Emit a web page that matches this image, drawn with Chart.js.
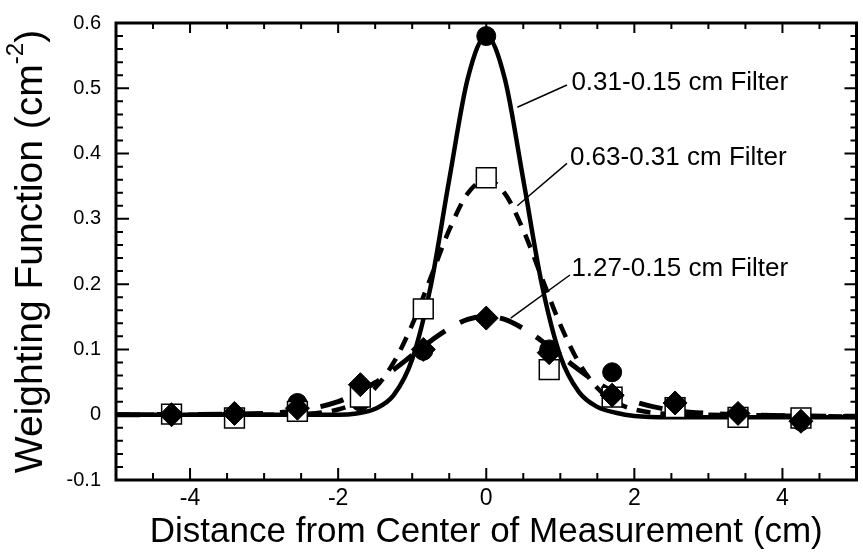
<!DOCTYPE html>
<html lang="en">
<head>
<meta charset="UTF-8">
<title>Weighting Function</title>
<script src="https://cdn.jsdelivr.net/npm/chart.js"></script>
<style>
  html, body { margin: 0; padding: 0; background: #fff; overflow: hidden; }
  .wrap { width: 863px; height: 557px; overflow: hidden; position: relative; }
  #chart { display: block; }
</style>
</head>
<body>
<div class="wrap">
  <canvas id="chart" width="872" height="557"></canvas>
</div>
<script>
// measured points (cm from center)
const sampleX  = [-4.25, -3.4, -2.55, -1.7, -0.85, 0, 0.85, 1.7, 2.55, 3.4, 4.25];
const circleY  = [0, 0, 0.018, 0.02, 0.098, 0.58, 0.1, 0.065, 0.015, 0, -0.01];
const squareY  = [0.001, -0.005, 0.005, 0.027, 0.162, 0.363, 0.069, 0.027, 0.011, -0.004, -0.005];
const diamondY = [0, 0.002, 0.01, 0.046, 0.1, 0.148, 0.095, 0.03, 0.018, 0.002, -0.01];

// fitted curves
const curveX = [-5, -3, -2.5, -2, -1.75, -1.5, -1.25, -1, -0.75, -0.5, -0.25, 0, 0.25, 0.5, 0.75, 1, 1.25, 1.5, 1.75, 2, 2.5, 3, 5];
const fit031 = [0, 0, 0, 0, 0.002, 0.009, 0.03, 0.085, 0.197, 0.36, 0.515, 0.58, 0.515, 0.36, 0.2, 0.09, 0.035, 0.012, 0.003, -0.002, -0.004, -0.004, -0.004];
const fit063 = [0, 0, 0.001, 0.008, 0.019, 0.041, 0.08, 0.138, 0.21, 0.283, 0.339, 0.36, 0.339, 0.283, 0.21, 0.138, 0.08, 0.041, 0.019, 0.008, 0.001, 0, -0.003];
const fit127 = [0, 0.002, 0.007, 0.02, 0.033, 0.049, 0.069, 0.091, 0.113, 0.132, 0.146, 0.15, 0.146, 0.132, 0.113, 0.091, 0.069, 0.049, 0.033, 0.02, 0.007, 0.002, -0.003];

const filterNames = ['0.31-0.15 cm Filter', '0.63-0.31 cm Filter', '1.27-0.15 cm Filter'];
const xTicks = [-4, -2, 0, 2, 4];
const yTicks = [-0.1, 0, 0.1, 0.2, 0.3, 0.4, 0.5, 0.6];

const FONT = "'Liberation Sans', Arial, Helvetica, sans-serif";
Chart.defaults.font.family = FONT;
Chart.defaults.color = '#000';

function pts(xs, ys) {
    return xs.map((v, i) => ({ x: v, y: ys[i] }));
}

// label text + leader line, in data units
const callouts = [
    { text: filterNames[0], at: [1.15, 0.508], from: [1.09, 0.505], to: [0.42, 0.471] },
    { text: filterNames[1], at: [1.13, 0.393], from: [1.09, 0.385], to: [0.42, 0.32] },
    { text: filterNames[2], at: [1.15, 0.223], from: [1.13, 0.214], to: [0.33, 0.148] }
];

// boxed frame with inward ticks on all four sides
const frameTicks = {
    id: 'frameTicks',
    afterDatasetsDraw(chart) {
        const { ctx, chartArea: a, scales: { x, y } } = chart;
        ctx.save();
        ctx.strokeStyle = '#000';
        ctx.lineWidth = 2;
        ctx.beginPath();
        for (let i = -10; i <= 10; i++) {
            const px = x.getPixelForValue(i / 2);
            const major = i % 4 === 0;
            ctx.moveTo(px, a.bottom); ctx.lineTo(px, a.bottom - (major ? 12 : 7));
            ctx.moveTo(px, a.top); ctx.lineTo(px, a.top + (major ? 10 : 6));
        }
        for (let i = -5; i <= 30; i++) {
            const py = y.getPixelForValue(i / 50);
            const major = i % 5 === 0;
            ctx.moveTo(a.left, py); ctx.lineTo(a.left + (major ? 13 : 7), py);
            ctx.moveTo(a.right, py); ctx.lineTo(a.right - (major ? 12 : 6), py);
        }
        ctx.stroke();
        ctx.lineWidth = 3;
        ctx.strokeRect(a.left, a.top, a.right - a.left, a.bottom - a.top);
        ctx.restore();
    }
};

// filter labels with leader lines
const calloutPlugin = {
    id: 'callouts',
    afterDatasetsDraw(chart) {
        const { ctx, scales: { x, y } } = chart;
        ctx.save();
        ctx.strokeStyle = '#000';
        ctx.fillStyle = '#000';
        ctx.lineWidth = 1.5;
        ctx.font = '26px ' + FONT;
        ctx.textAlign = 'left';
        ctx.textBaseline = 'middle';
        callouts.forEach(c => {
            ctx.beginPath();
            ctx.moveTo(x.getPixelForValue(c.from[0]), y.getPixelForValue(c.from[1]));
            ctx.lineTo(x.getPixelForValue(c.to[0]), y.getPixelForValue(c.to[1]));
            ctx.stroke();
            ctx.fillText(c.text, x.getPixelForValue(c.at[0]), y.getPixelForValue(c.at[1]));
        });
        ctx.restore();
    }
};

// y title with superscript unit
const yTitle = {
    id: 'yTitle',
    afterDraw(chart) {
        const { ctx, chartArea: a } = chart;
        const big = '39px ' + FONT, small = '24px ' + FONT;
        const parts = [['Weighting Function (cm', big, 0], ['-2', small, -15], [')', big, 0]];
        ctx.save();
        let total = 0;
        parts.forEach(p => { ctx.font = p[1]; total += ctx.measureText(p[0]).width; });
        ctx.translate(31, (a.top + a.bottom) / 2);
        ctx.rotate(-Math.PI / 2);
        ctx.fillStyle = '#000';
        ctx.textBaseline = 'middle';
        ctx.textAlign = 'left';
        let cx = -total / 2;
        parts.forEach(p => {
            ctx.font = p[1];
            ctx.fillText(p[0], cx, p[2]);
            cx += ctx.measureText(p[0]).width;
        });
        ctx.restore();
    }
};

const curveStyle = {
    showLine: true,
    pointRadius: 0,
    borderColor: '#000',
    backgroundColor: '#000',
    cubicInterpolationMode: 'monotone'
};

new Chart(document.getElementById('chart'), {
    type: 'scatter',
    data: {
        datasets: [
            { data: pts(sampleX, diamondY), pointStyle: 'rectRot', pointRadius: 12, backgroundColor: '#000', borderColor: '#000', borderWidth: 1, order: 1 },
            { data: pts(sampleX, squareY), pointStyle: 'rect', pointRadius: 14, backgroundColor: '#fff', borderColor: '#000', borderWidth: 1.5, order: 2 },
            { data: pts(sampleX, circleY), pointStyle: 'circle', pointRadius: 9.5, backgroundColor: '#000', borderColor: '#000', borderWidth: 1, order: 3 },
            Object.assign({ label: filterNames[0], data: pts(curveX, fit031), borderWidth: 4.5, order: 4 }, curveStyle),
            Object.assign({ label: filterNames[1], data: pts(curveX, fit063), borderWidth: 4.5, borderDash: [14, 10], order: 5 }, curveStyle),
            Object.assign({ label: filterNames[2], data: pts(curveX, fit127), borderWidth: 5, borderDash: [24, 17], order: 6 }, curveStyle)
        ]
    },
    options: {
        responsive: false,
        animation: false,
        devicePixelRatio: 1,
        layout: { padding: { top: 23, right: 5, left: 0, bottom: 0 } },
        plugins: { legend: { display: false }, tooltip: { enabled: false } },
        scales: {
            x: {
                type: 'linear',
                min: -5,
                max: 5,
                afterBuildTicks: s => { s.ticks = xTicks.map(v => ({ value: v })); },
                afterFit: s => { s.height = 77; s.paddingLeft = 0; s.paddingRight = 0; },
                grid: { display: false, drawTicks: false },
                border: { display: false },
                ticks: { font: { size: 23 }, color: '#000', padding: 5 },
                title: {
                    display: true,
                    text: 'Distance from Center of Measurement (cm)',
                    font: { size: 35 },
                    color: '#000',
                    padding: { top: 0, bottom: 4 }
                }
            },
            y: {
                min: -0.1,
                max: 0.6,
                afterBuildTicks: s => { s.ticks = yTicks.map(v => ({ value: v })); },
                afterFit: s => { s.width = 116; s.paddingTop = 0; s.paddingBottom = 0; },
                grid: { display: false, drawTicks: false },
                border: { display: false },
                ticks: {
                    font: { size: 20 },
                    color: '#000',
                    padding: 15,
                    callback: v => v === 0 ? '0' : v.toFixed(1)
                }
            }
        }
    },
    plugins: [frameTicks, calloutPlugin, yTitle]
});
</script>
</body>
</html>
